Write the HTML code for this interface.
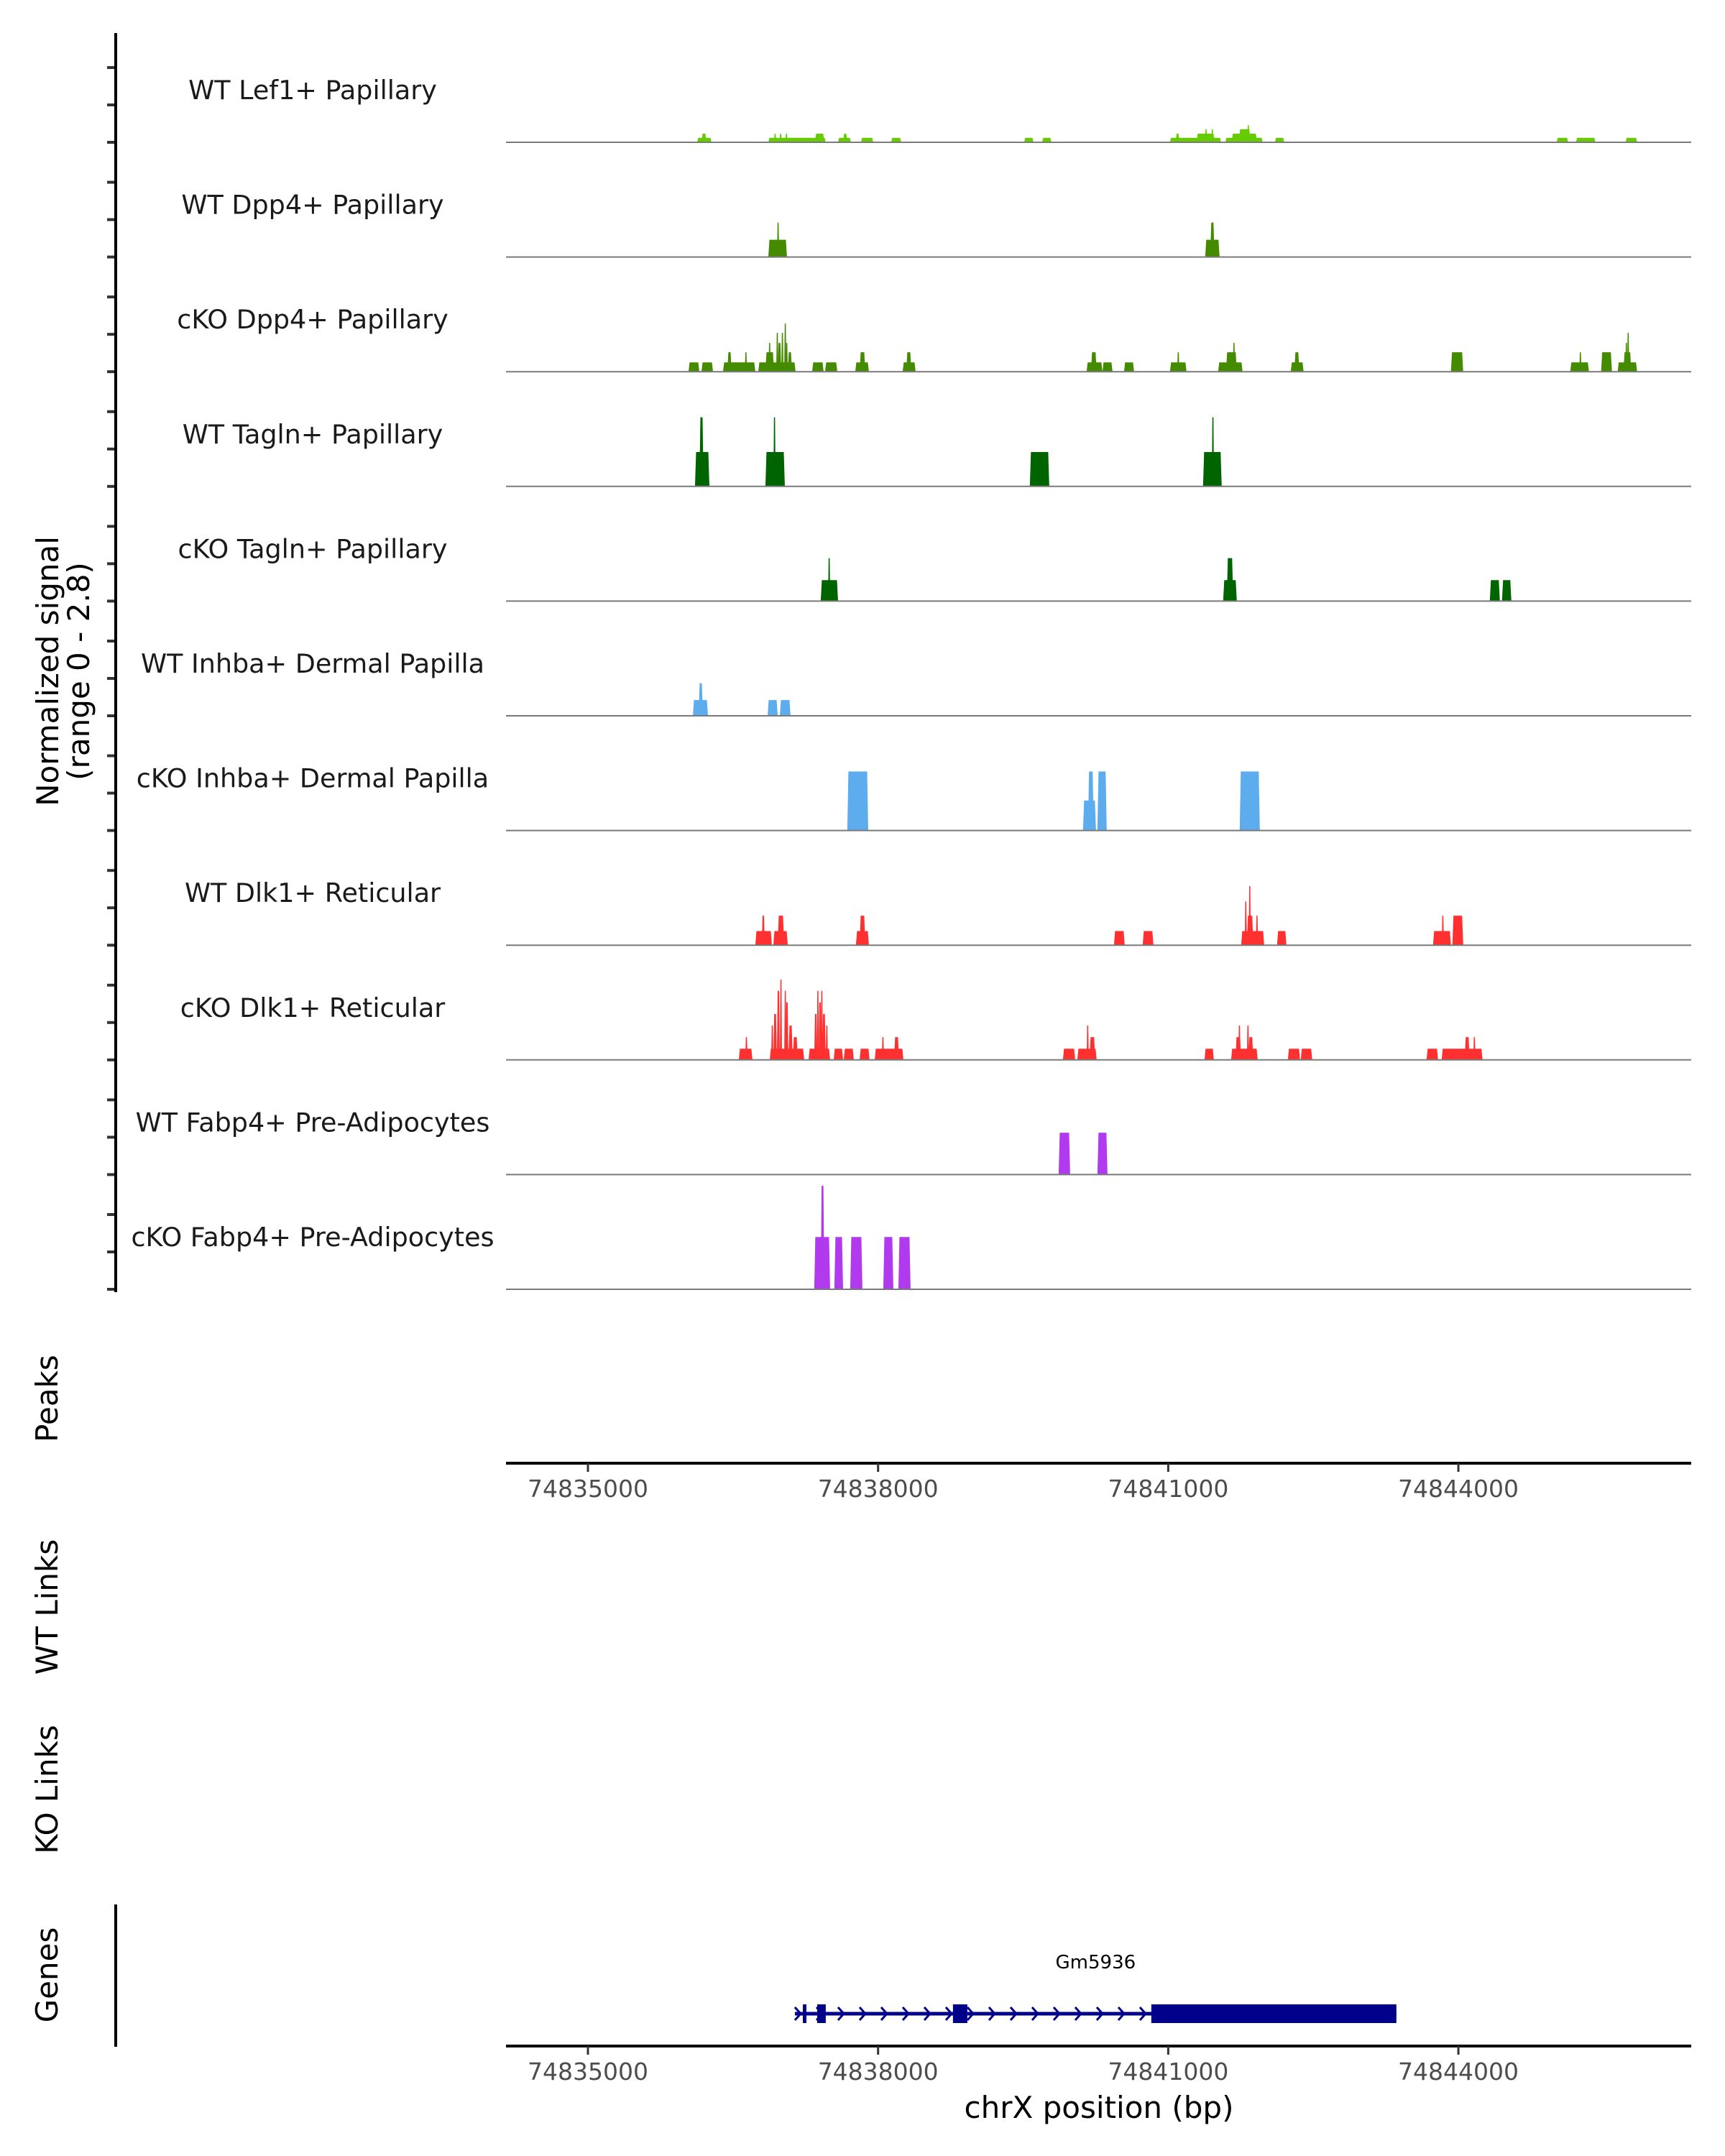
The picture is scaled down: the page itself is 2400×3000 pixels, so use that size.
<!DOCTYPE html>
<html>
<head>
<meta charset="utf-8">
<style>
  html,body{margin:0;padding:0;background:#fff;}
  svg{display:block;}
  text{font-family:"DejaVu Sans","Liberation Sans",sans-serif;}
</style>
</head>
<body>
<svg id="chart" width="2400" height="3000" viewBox="0 0 2400 3000" xmlns="http://www.w3.org/2000/svg">
  <rect x="0" y="0" width="2400" height="3000" fill="#ffffff"/>
  <g id="tracks"></g>
  <g id="axes"></g>
  <g id="genes"></g>
</svg>
<script>
// ---- chart data (positions are bp offsets from regionOrigin) ----
const regionOrigin = 74835000;
const axisTicks = [74835000, 74838000, 74841000, 74844000];
const axisTickLabels = ["74835000", "74838000", "74841000", "74844000"];
const trackNames = ["WT Lef1+ Papillary","WT Dpp4+ Papillary","cKO Dpp4+ Papillary","WT Tagln+ Papillary","cKO Tagln+ Papillary","WT Inhba+ Dermal Papilla","cKO Inhba+ Dermal Papilla","WT Dlk1+ Reticular","cKO Dlk1+ Reticular","WT Fabp4+ Pre-Adipocytes","cKO Fabp4+ Pre-Adipocytes"];
const trackColors = ["#66CC00","#458B00","#458B00","#006400","#006400","#5CACEE","#5CACEE","#FF3030","#FF3030","#B23AEE","#B23AEE"];
const signalTicks = [0, 1, 2];
// each segment: [startOffset, endOffset, normalizedSignal]
const lef1WT = [[1129,1278,0.12],[1174,1226,0.23],[1865,2459,0.12],[1925,1945,0.23],[1985,2000,0.23],[2045,2060,0.23],[2348,2444,0.23],[2586,2719,0.12],[2638,2682,0.23],[2823,2950,0.12],[3135,3239,0.12],[4510,4607,0.12],[4696,4792,0.12],[6018,6546,0.12],[6078,6115,0.23],[6293,6479,0.23],[6382,6400,0.35],[6450,6462,0.35],[6590,6977,0.12],[6657,6917,0.23],[6732,6850,0.35],[6821,6835,0.46],[7103,7200,0.12],[10016,10135,0.12],[10216,10417,0.12],[10729,10848,0.12]];
const dpp4WT = [[1865,2058,0.46],[1962,1970,0.92],[6382,6531,0.46],[6434,6479,0.92]];
const dpp4KO = [[1040,1152,0.25],[1174,1293,0.25],[1397,1731,0.25],[1441,1486,0.52],[1627,1640,0.52],[1761,2147,0.25],[1835,1924,0.52],[1872,1885,0.77],[1954,1962,1.04],[1962,1999,0.77],[2006,2015,1.04],[2036,2045,1.29],[2045,2066,0.77],[2066,2110,0.52],[2318,2437,0.25],[2452,2578,0.25],[2764,2905,0.25],[2809,2868,0.52],[3254,3388,0.25],[3291,3344,0.52],[5156,5320,0.25],[5201,5260,0.52],[5320,5424,0.25],[5543,5647,0.25],[6018,6189,0.25],[6093,6115,0.52],[6516,6769,0.25],[6598,6709,0.52],[6672,6687,0.77],[7267,7400,0.25],[7304,7356,0.52],[8923,9050,0.52],[10157,10350,0.25],[10253,10270,0.52],[10476,10588,0.52],[10647,10848,0.25],[10707,10788,0.52],[10729,10745,0.77],[10751,10760,1.04]];
const taglnWT = [[1107,1256,0.92],[1152,1196,1.85],[1835,2036,0.92],[1924,1934,1.85],[4569,4770,0.92],[6360,6553,0.92],[6457,6467,1.85]];
const taglnKO = [[2407,2586,0.56],[2489,2499,1.15],[6568,6709,0.56],[6605,6672,1.15],[9325,9429,0.56],[9451,9548,0.56]];
const inhbaWT = [[1085,1241,0.42],[1144,1189,0.87],[1858,1962,0.42],[1984,2095,0.42]];
const inhbaKO = [[2682,2898,1.58],[5119,5253,0.8],[5170,5230,1.58],[5268,5364,1.58],[6739,6947,1.58]];
const dlk1WT = [[1731,1902,0.38],[1798,1828,0.79],[1917,2066,0.38],[1962,2028,0.79],[2771,2905,0.38],[2809,2868,0.79],[5439,5550,0.38],[5736,5847,0.38],[6754,6992,0.38],[6791,6813,1.17],[6836,6850,1.58],[6813,6880,0.79],[6910,6925,0.79],[7125,7222,0.38],[8738,8923,0.38],[8834,8845,0.79],[8938,9050,0.79]];
const dlk1KO = [[1560,1701,0.3],[1627,1650,0.61],[1880,2236,0.3],[1895,1917,0.92],[1917,1954,1.23],[1954,1984,1.85],[1991,2000,2.15],[2036,2045,1.85],[2043,2073,1.54],[2073,2118,0.92],[2118,2170,0.61],[2281,2504,0.3],[2340,2370,1.23],[2370,2385,1.85],[2385,2415,1.54],[2415,2422,1.85],[2422,2459,1.23],[2459,2481,0.92],[2541,2638,0.3],[2645,2749,0.3],[2809,2912,0.3],[2965,3262,0.3],[3046,3054,0.61],[3165,3217,0.61],[4911,5038,0.3],[5060,5260,0.3],[5186,5245,0.61],[5164,5171,0.92],[6375,6472,0.3],[6650,6925,0.3],[6695,6754,0.61],[6732,6740,0.92],[6821,6828,0.92],[6828,6880,0.61],[7237,7363,0.3],[7370,7489,0.3],[8671,8790,0.3],[8827,9250,0.3],[9065,9117,0.61],[9161,9170,0.61]];
const fabp4WT = [[4867,4986,1.12],[5268,5372,1.12]];
const fabp4KO = [[2340,2504,1.4],[2407,2444,2.77],[2548,2638,1.4],[2712,2838,1.4],[3054,3158,1.4],[3210,3336,1.4]];
const trackSeries = [lef1WT,dpp4WT,dpp4KO,taglnWT,taglnKO,inhbaWT,inhbaKO,dlk1WT,dlk1KO,fabp4WT,fabp4KO];
// gene model Gm5936 (offsets)
const geneName = "Gm5936";
const geneSpan = [2140, 8359];
const geneExons = [[2222,2259],[2370,2459],[3774,3923],[5825,8359]];

// ---- scales ----
const NS = "http://www.w3.org/2000/svg";
const plotX0 = 704, plotX1 = 2353;
const pxPerBp = 0.13456;
function xScale(bp){ return 818 + (bp - 74835000) * pxPerBp; }
const trackTop = 198, trackStep = 159.6, unitPx = 52;
function baseY(i){ return trackTop + trackStep * i; }
function yScale(i, v){ return baseY(i) - v * unitPx; }
function mk(tag, attrs, parent){
  const el = document.createElementNS(NS, tag);
  for (const k in attrs) el.setAttribute(k, attrs[k]);
  parent.appendChild(el);
  return el;
}
const gT = document.getElementById('tracks');
const gA = document.getElementById('axes');
const gG = document.getElementById('genes');

// ---- tracks ----
trackNames.forEach((name, i) => {
  const by = baseY(i);
  const g = mk('g', {}, gT);
  
  
  trackSeries[i].forEach(seg => {
    let x0 = xScale(regionOrigin + seg[0]);
    let x1 = xScale(regionOrigin + seg[1]);
    if (x1 - x0 < 3) { const c = (x0 + x1) / 2; x0 = c - 1.5; x1 = c + 1.5; }
    const yt = yScale(i, seg[2]);
    const r = Math.min(1.5, (x1 - x0) / 4);
    const p = mk('polygon', {points: `${x0},${by} ${x0+r},${yt} ${x1-r},${yt} ${x1},${by}`, fill: trackColors[i]}, g);
    
    
  });
  const bl = mk('line', {x1: plotX0, x2: plotX1, y1: by, y2: by, stroke: '#7a7a7a', 'stroke-width': 2}, g);
  
  
  const lab = mk('text', {x: 435, y: by - 60, 'text-anchor': 'middle', 'font-size': 36.5, fill: '#1a1a1a'}, g);
  lab.textContent = name;
  
  
  signalTicks.forEach(t => {
    const ty = yScale(i, t);
    const tk = mk('line', {x1: 149, x2: 161, y1: ty, y2: ty, stroke: '#333333', 'stroke-width': 4}, gA);
    
    
  });
});

// ---- left axis lines ----
const ya = mk('line', {x1: 161, x2: 161, y1: 46, y2: baseY(10) + 4, stroke: '#000', 'stroke-width': 4}, gA);


const ga = mk('line', {x1: 161, x2: 161, y1: 2650, y2: 2848, stroke: '#000', 'stroke-width': 4}, gA);



// ---- y titles ----
function vtitle(txt, x, y, name){
  const t = mk('text', {x: x, y: y, 'text-anchor': 'middle', 'font-size': 42, fill: '#000', transform: `rotate(-90 ${x} ${y})`}, gA);
  t.textContent = txt;
  
  
}
vtitle("Normalized signal", 81, 934, 'y-axis-title');
vtitle("(range 0 - 2.8)", 124, 934, 'y-axis-range');
vtitle("Peaks", 80, 1946, 'peaks-title');
vtitle("WT Links", 80, 2236, 'wt-links-title');
vtitle("KO Links", 80, 2490, 'ko-links-title');
vtitle("Genes", 80, 2748, 'genes-title');

// ---- x axes ----
function xaxis(y, name){
  const l = mk('line', {x1: plotX0, x2: plotX1, y1: y, y2: y, stroke: '#000', 'stroke-width': 4}, gA);
  
  
  axisTicks.forEach((t, k) => {
    const x = xScale(t);
    const tk = mk('line', {x1: x, x2: x, y1: y, y2: y + 12, stroke: '#333', 'stroke-width': 3}, gA);
    
    
    const tl = mk('text', {x: x, y: y + 47, 'text-anchor': 'middle', 'font-size': 33, fill: '#4d4d4d'}, gA);
    tl.textContent = axisTickLabels[k];
    
    
  });
}
xaxis(2036, 'peaks-x-axis');
xaxis(2847, 'genes-x-axis');
const xt = mk('text', {x: 1529, y: 2947, 'text-anchor': 'middle', 'font-size': 42, fill: '#000'}, gA);
xt.textContent = "chrX position (bp)";



// ---- gene ----
const gy = 2802;
const gs = xScale(regionOrigin + geneSpan[0]), ge = xScale(regionOrigin + geneSpan[1]);
const gl = mk('line', {x1: gs, x2: ge, y1: gy, y2: gy, stroke: '#00008B', 'stroke-width': 5}, gG);


for (let x = gs + 4; x < xScale(regionOrigin + geneExons[3][0]) - 6; x += 30) {
  const c = mk('polyline', {points: `${x-4},${gy-9} ${x+4},${gy} ${x-4},${gy+9}`, fill: 'none', stroke: '#00008B', 'stroke-width': 3}, gG);
  
  
}
geneExons.forEach(ex => {
  const x0 = xScale(regionOrigin + ex[0]), x1 = xScale(regionOrigin + ex[1]);
  const r = mk('rect', {x: x0, y: gy - 13, width: Math.max(4, x1 - x0), height: 26, fill: '#00008B'}, gG);
  
  
});
const gn = mk('text', {x: (gs + ge) / 2 + 0, y: 2739, 'text-anchor': 'middle', 'font-size': 26, fill: '#000'}, gG);
gn.textContent = geneName;


</script>
</body>
</html>
